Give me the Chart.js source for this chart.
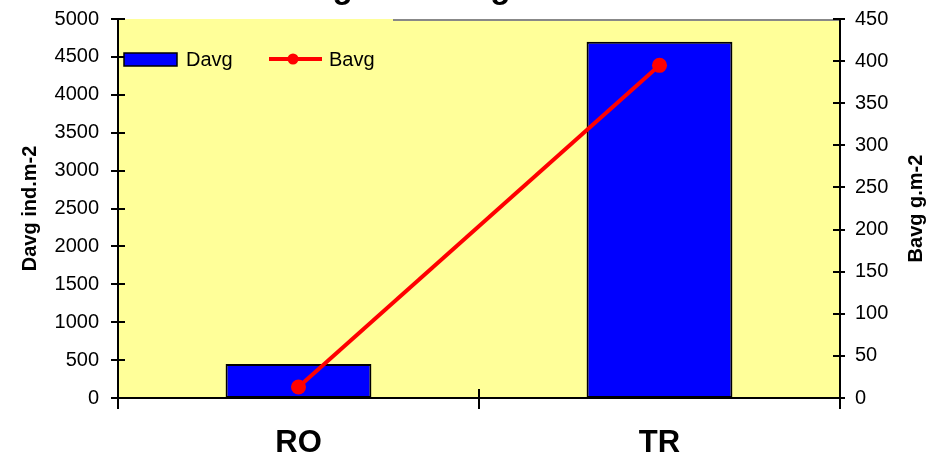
<!DOCTYPE html>
<html>
<head>
<meta charset="utf-8">
<script src="https://cdn.jsdelivr.net/npm/chart.js@4/dist/chart.umd.min.js"></script>
<style>
  html, body { margin: 0; padding: 0; background: #ffffff; }
  #wrap { width: 938px; height: 457px; }
  canvas { display: block; }
</style>
</head>
<body>
<div id="wrap"><canvas id="chart" width="938" height="457"></canvas></div>
<script>
// Sites and their average density / biomass
const sites = ['RO', 'TR'];
const davgValues = [450, 4700];   // Davg, ind.m-2 (left axis)
const bavgValues = [13, 395];     // Bavg, g.m-2 (right axis)

// Axis ranges
const davgAxis = { min: 0, max: 5000, step: 500 };
const bavgAxis = { min: 0, max: 450, step: 50 };

// Texts
const chartTitle = 'Davg and Bavg';
const leftAxisTitle = 'Davg ind.m-2';
const rightAxisTitle = 'Bavg g.m-2';

const FONT = '"Liberation Sans", Arial, sans-serif';
const PLOT_BG = '#FFFF99';

// Pale yellow plot area plus the grey top border segment
const plotBackground = {
  id: 'plotBackground',
  beforeDraw(chart) {
    const { ctx, chartArea: a } = chart;
    ctx.save();
    ctx.fillStyle = PLOT_BG;
    ctx.fillRect(a.left, a.top, a.right - a.left, a.bottom - a.top);
    ctx.strokeStyle = '#888888';
    ctx.lineWidth = 2;
    ctx.beginPath();
    ctx.moveTo(393, a.top + 1);
    ctx.lineTo(a.right, a.top + 1);
    ctx.stroke();
    ctx.restore();
  }
};

// Tick marks that cross the axis lines
const crossTicks = {
  id: 'crossTicks',
  afterDraw(chart) {
    const { ctx, chartArea: a, scales } = chart;
    ctx.save();
    ctx.strokeStyle = '#000000';
    ctx.lineWidth = 2;
    ctx.beginPath();
    scales.y.ticks.forEach(t => {
      const py = Math.round(scales.y.getPixelForValue(t.value));
      ctx.moveTo(a.left - 7, py);
      ctx.lineTo(a.left + 7, py);
    });
    scales.y1.ticks.forEach(t => {
      const py = Math.round(scales.y1.getPixelForValue(t.value));
      ctx.moveTo(a.right - 7, py);
      ctx.lineTo(a.right + 5, py);
    });
    const x = scales.x;
    const p0 = x.getPixelForValue(0);
    const p1 = x.getPixelForValue(1);
    const half = (p1 - p0) / 2;
    [p0 - half, p0 + half, p1 + half].forEach(px => {
      const rx = Math.round(px);
      ctx.moveTo(rx, a.bottom - 9);
      ctx.lineTo(rx, a.bottom + 11);
    });
    ctx.stroke();
    ctx.restore();
  }
};

// Title (sitting above the canvas top) and the two rotated axis titles
const textLayer = {
  id: 'textLayer',
  afterDraw(chart) {
    const { ctx, chartArea: a } = chart;
    ctx.save();
    ctx.fillStyle = '#000000';
    ctx.font = 'bold 33px ' + FONT;
    ctx.textAlign = 'left';
    ctx.textBaseline = 'alphabetic';
    ctx.fillText(chartTitle, 272, -2);

    const cy = (a.top + a.bottom) / 2;
    ctx.font = 'bold 20px ' + FONT;
    ctx.textAlign = 'center';
    ctx.textBaseline = 'middle';
    ctx.save();
    ctx.translate(30, cy);
    ctx.rotate(-Math.PI / 2);
    ctx.fillText(leftAxisTitle, 0, 0);
    ctx.restore();
    ctx.save();
    ctx.translate(916, cy);
    ctx.rotate(-Math.PI / 2);
    ctx.fillText(rightAxisTitle, 0, 0);
    ctx.restore();
    ctx.restore();
  }
};

// Legend drawn inside the top-left corner of the plot area
const insideLegend = {
  id: 'insideLegend',
  afterDraw(chart) {
    const { ctx } = chart;
    const [bars, line] = chart.data.datasets;
    ctx.save();
    ctx.font = '20px ' + FONT;
    ctx.textAlign = 'left';
    ctx.textBaseline = 'middle';

    ctx.fillStyle = bars.backgroundColor;
    ctx.fillRect(124, 53, 53, 13);
    ctx.strokeStyle = '#000000';
    ctx.lineWidth = 1.5;
    ctx.strokeRect(124, 53, 53, 13);
    ctx.fillStyle = '#000000';
    ctx.fillText(bars.label, 186, 60);

    ctx.strokeStyle = line.borderColor;
    ctx.lineWidth = 4;
    ctx.beginPath();
    ctx.moveTo(269, 59);
    ctx.lineTo(322, 59);
    ctx.stroke();
    ctx.fillStyle = line.pointBackgroundColor;
    ctx.beginPath();
    ctx.arc(293, 59, 5.5, 0, Math.PI * 2);
    ctx.fill();
    ctx.fillStyle = '#000000';
    ctx.fillText(line.label, 329, 60);
    ctx.restore();
  }
};

const plainNumber = v => String(v);

// Fixed axis band sizes; label overhang is ignored so the plot keeps its frame
const fitWidth = w => s => { s.width = w; s.paddingTop = 0; s.paddingBottom = 0; };

new Chart(document.getElementById('chart'), {
  data: {
    labels: sites,
    datasets: [
      {
        type: 'bar',
        label: 'Davg',
        data: davgValues,
        yAxisID: 'y',
        backgroundColor: '#0000FF',
        borderColor: '#000000',
        borderWidth: 2,
        borderSkipped: false,
        categoryPercentage: 1,
        barPercentage: 0.404,
        order: 2
      },
      {
        type: 'line',
        label: 'Bavg',
        data: bavgValues,
        yAxisID: 'y1',
        borderColor: '#FF0000',
        backgroundColor: '#FF0000',
        borderWidth: 4,
        pointRadius: 7.5,
        pointBackgroundColor: '#FF0000',
        pointBorderWidth: 0,
        tension: 0,
        fill: false,
        order: 1
      }
    ]
  },
  options: {
    responsive: false,
    animation: false,
    devicePixelRatio: 1,
    layout: { padding: { top: 19, left: 0, right: 0, bottom: 0 } },
    plugins: {
      legend: { display: false },
      title: { display: false },
      tooltip: { enabled: false }
    },
    scales: {
      x: {
        type: 'category',
        offset: true,
        grid: { display: false, drawTicks: false },
        border: { display: true, color: '#000000', width: 2 },
        ticks: {
          color: '#000000',
          font: { family: FONT, size: 31, weight: 'bold' },
          padding: 27,
          maxRotation: 0
        },
        afterFit(s) { s.height = 59; s.paddingLeft = 0; s.paddingRight = 0; }
      },
      y: {
        type: 'linear',
        position: 'left',
        min: davgAxis.min,
        max: davgAxis.max,
        grid: { display: false, drawTicks: false },
        border: { display: true, color: '#000000', width: 2 },
        ticks: {
          stepSize: davgAxis.step,
          color: '#000000',
          font: { family: FONT, size: 20 },
          padding: 19,
          callback: plainNumber
        },
        afterFit: fitWidth(118)
      },
      y1: {
        type: 'linear',
        position: 'right',
        min: bavgAxis.min,
        max: bavgAxis.max,
        grid: { display: false, drawTicks: false },
        border: { display: true, color: '#000000', width: 2 },
        ticks: {
          stepSize: bavgAxis.step,
          color: '#000000',
          font: { family: FONT, size: 20 },
          padding: 15,
          callback: plainNumber
        },
        afterFit: fitWidth(98)
      }
    }
  },
  plugins: [plotBackground, crossTicks, textLayer, insideLegend]
});
</script>
</body>
</html>
